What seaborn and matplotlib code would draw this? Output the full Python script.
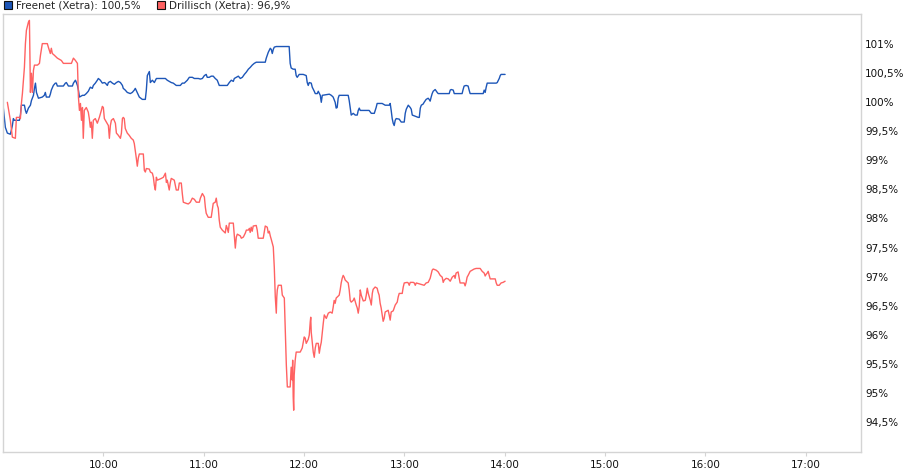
import matplotlib
matplotlib.use("Agg")
import matplotlib.pyplot as plt
import matplotlib.dates as mdates
from matplotlib.patches import Patch
from matplotlib.ticker import FuncFormatter, FixedLocator
import pandas as pd
import seaborn as sns

# Intraday data, minutes after 09:00, value in % of the opening price
freenet_min = [0.0, 0.2, 0.8, 1.4, 2.6, 4.4, 5.0, 5.6, 6.2, 6.8, 9.8, 10.4, 11.0, 12.8, 13.4, 14.0,
               15.2, 16.4, 17.0, 18.2, 18.8, 19.4, 20.0, 21.2, 23.5, 24.7, 25.3, 25.9, 27.7, 28.3,
               28.9, 30.1, 31.3, 31.9, 32.5, 36.1, 37.3, 37.9, 38.5, 39.1, 41.5, 42.1, 43.3, 43.9,
               44.5, 45.1, 45.7, 47.5, 48.6, 49.8, 51.0, 52.2, 53.4, 54.0, 55.2, 56.4, 57.0, 58.2,
               59.4, 60.6, 61.2, 62.4, 63.0, 64.2, 65.4, 66.6, 67.8, 69.0, 70.2, 71.4, 71.9, 73.1,
               74.3, 76.1, 77.3, 78.5, 79.1, 81.5, 83.3, 85.1, 85.7, 86.3, 87.5, 88.1, 89.3, 90.5,
               91.7, 97.1, 98.2, 99.4, 100.6, 101.8, 103.6, 106.0, 107.2, 108.4, 110.2, 111.4,
               113.2, 114.4, 116.8, 118.0, 119.2, 120.4, 121.5, 122.1, 123.3, 124.5, 125.7, 126.9,
               128.1, 129.3, 134.1, 135.3, 136.5, 137.7, 138.3, 139.5, 140.7, 141.9, 143.1, 144.3,
               145.5, 146.7, 147.8, 149.0, 150.2, 151.4, 156.8, 157.4, 158.0, 158.6, 159.8, 160.4,
               161.0, 161.6, 162.2, 163.4, 171.1, 171.7, 172.3, 173.5, 174.7, 175.3, 175.9, 177.1,
               179.5, 181.3, 181.9, 182.5, 183.1, 184.3, 184.9, 186.1, 186.7, 187.9, 188.5, 189.7,
               190.3, 190.9, 195.1, 196.3, 197.4, 198.6, 199.2, 199.8, 200.4, 201.0, 206.4, 207.0,
               207.6, 208.2, 209.4, 210.6, 211.8, 212.4, 213.0, 213.6, 218.9, 220.2, 222.0, 223.1,
               223.7, 226.7, 228.5, 230.9, 231.5, 232.1, 232.7, 233.3, 233.9, 234.5, 235.1, 236.9,
               238.1, 239.9, 240.5, 241.1, 242.3, 243.5, 244.1, 244.7, 248.3, 248.9, 249.5, 250.1,
               251.2, 251.8, 253.0, 254.2, 254.8, 255.4, 256.0, 256.6, 257.2, 258.4, 259.6, 260.2,
               266.8, 267.4, 268.0, 269.2, 269.8, 274.5, 275.1, 275.7, 276.9, 278.1, 278.7, 279.3,
               287.1, 287.7, 288.3, 288.9, 289.5, 294.9, 295.5, 296.7, 297.3, 297.8, 300.2]
freenet_val = [100.00, 99.90, 99.74, 99.57, 99.47, 99.45, 99.52, 99.60, 99.72, 99.69, 99.69, 99.78,
               99.95, 99.95, 99.86, 99.81, 99.90, 99.95, 100.03, 100.12, 100.24, 100.33, 100.17,
               100.07, 100.09, 100.12, 100.17, 100.09, 100.09, 100.14, 100.21, 100.29, 100.33,
               100.33, 100.28, 100.28, 100.33, 100.34, 100.31, 100.28, 100.28, 100.33, 100.38,
               100.34, 100.29, 100.21, 100.09, 100.12, 100.12, 100.15, 100.19, 100.26, 100.24,
               100.29, 100.33, 100.38, 100.41, 100.38, 100.33, 100.34, 100.33, 100.29, 100.34,
               100.36, 100.33, 100.31, 100.34, 100.36, 100.34, 100.29, 100.24, 100.21, 100.17,
               100.15, 100.17, 100.21, 100.24, 100.09, 100.05, 100.05, 100.21, 100.46, 100.53,
               100.34, 100.38, 100.34, 100.41, 100.41, 100.38, 100.36, 100.34, 100.33, 100.29,
               100.29, 100.33, 100.33, 100.38, 100.43, 100.43, 100.41, 100.41, 100.40, 100.41,
               100.46, 100.48, 100.43, 100.43, 100.45, 100.45, 100.41, 100.38, 100.29, 100.29,
               100.34, 100.38, 100.36, 100.41, 100.43, 100.45, 100.41, 100.43, 100.48, 100.52,
               100.57, 100.60, 100.64, 100.67, 100.69, 100.69, 100.76, 100.81, 100.86, 100.93,
               100.91, 100.84, 100.91, 100.95, 100.96, 100.96, 100.67, 100.59, 100.57, 100.57,
               100.46, 100.43, 100.48, 100.48, 100.46, 100.34, 100.29, 100.34, 100.33, 100.26,
               100.19, 100.15, 100.15, 100.19, 100.12, 100.00, 100.12, 100.14, 100.12, 100.09,
               100.00, 99.90, 99.91, 100.07, 100.12, 100.12, 100.03, 99.91, 99.78, 99.81, 99.78,
               99.78, 99.86, 99.90, 99.86, 99.86, 99.81, 99.81, 99.91, 99.98, 99.98, 99.95, 99.95,
               99.98, 99.86, 99.72, 99.64, 99.60, 99.69, 99.72, 99.71, 99.66, 99.66, 99.81, 99.88,
               99.95, 99.91, 99.88, 99.78, 99.74, 99.74, 99.90, 99.95, 99.97, 100.00, 100.05,
               100.07, 100.05, 100.02, 100.09, 100.15, 100.19, 100.22, 100.17, 100.15, 100.15,
               100.21, 100.22, 100.21, 100.15, 100.15, 100.22, 100.28, 100.29, 100.28, 100.21,
               100.15, 100.15, 100.21, 100.17, 100.26, 100.33, 100.33, 100.34, 100.41, 100.46,
               100.48, 100.48]

drillisch_min = [2.6, 4.4, 5.6, 7.4, 8.0, 9.8, 10.4, 11.0, 11.6, 12.8, 13.4, 14.0, 15.2, 15.8, 16.4,
                 17.0, 17.6, 18.2, 18.8, 20.6, 21.8, 22.4, 23.5, 26.5, 27.1, 28.3, 28.9, 29.5, 30.7,
                 32.5, 34.9, 36.1, 40.9, 42.1, 43.3, 44.5, 45.1, 45.7, 46.3, 46.9, 47.5, 48.0, 48.6,
                 49.8, 51.0, 51.6, 52.2, 52.8, 53.4, 54.0, 55.2, 56.4, 57.6, 58.8, 59.4, 60.0, 60.6,
                 61.8, 63.0, 63.6, 64.2, 64.8, 66.0, 67.2, 67.8, 69.0, 70.2, 70.8, 71.4, 71.9, 72.5,
                 73.1, 74.3, 75.5, 76.7, 77.9, 78.5, 79.1, 79.7, 80.3, 80.9, 81.5, 83.9, 84.5, 85.1,
                 85.7, 87.5, 88.1, 89.3, 89.9, 90.5, 91.1, 91.7, 92.3, 94.7, 95.9, 97.1, 97.7, 98.2,
                 99.4, 100.0, 100.6, 102.4, 103.0, 103.6, 104.8, 105.4, 106.6, 107.2, 107.8, 109.6,
                 110.8, 112.0, 113.2, 114.4, 115.6, 117.4, 118.0, 119.2, 120.4, 121.0, 121.5, 122.7,
                 124.5, 125.1, 125.7, 126.9, 127.5, 128.1, 128.7, 129.3, 129.9, 131.1, 132.9, 133.5,
                 134.1, 134.7, 135.3, 137.7, 138.3, 138.9, 139.5, 140.1, 141.9, 142.5, 143.7, 144.9,
                 145.5, 146.7, 147.3, 147.8, 148.4, 149.0, 149.6, 151.4, 152.0, 152.6, 155.6, 156.8,
                 158.0, 158.6, 159.2, 159.8, 160.4, 161.6, 162.2, 162.8, 163.4, 163.7, 164.0, 164.6,
                 166.4, 167.0, 168.2, 168.8, 169.4, 170.0, 171.7, 172.3, 172.9, 173.2, 173.5, 173.8,
                 174.1, 174.7, 175.3, 177.7, 178.9, 179.5, 180.1, 180.7, 181.3, 182.5, 183.1, 183.7,
                 184.0, 184.3, 185.5, 186.1, 186.7, 187.3, 188.5, 189.1, 189.7, 190.3, 190.9, 191.5,
                 192.1, 193.3, 194.5, 195.7, 196.8, 197.4, 198.0, 198.6, 199.2, 201.0, 201.6, 202.2,
                 202.8, 203.4, 204.0, 204.6, 206.4, 207.0, 207.6, 208.2, 209.4, 210.0, 211.2, 211.8,
                 212.4, 213.0, 213.6, 214.2, 215.4, 216.6, 217.2, 217.8, 218.4, 219.6, 220.2, 220.8,
                 221.3, 222.5, 223.7, 224.3, 224.9, 225.5, 226.1, 226.7, 227.3, 227.9, 228.5, 230.3,
                 230.9, 231.5, 232.1, 233.3, 233.9, 234.5, 235.7, 236.3, 236.9, 238.7, 239.3, 239.9,
                 241.7, 242.3, 242.9, 243.5, 245.3, 245.9, 246.5, 247.1, 251.8, 253.0, 254.2, 255.4,
                 256.6, 257.2, 259.0, 260.2, 261.4, 262.6, 263.2, 263.8, 265.0, 266.2, 267.4, 268.6,
                 269.8, 270.3, 270.9, 272.1, 272.7, 273.3, 275.7, 276.3, 276.9, 277.5, 278.1, 279.3,
                 280.5, 281.7, 282.9, 285.3, 286.5, 287.7, 288.3, 288.9, 289.5, 290.1, 290.7, 291.3,
                 294.3, 294.9, 295.5, 296.7, 297.8, 299.0, 300.2]
drillisch_val = [100.00, 99.69, 99.40, 99.38, 99.74, 99.74, 99.72, 99.98, 100.15, 100.60, 101.01,
                 101.24, 101.38, 101.41, 100.17, 100.50, 100.17, 100.55, 100.64, 100.64, 100.67,
                 100.81, 101.01, 101.01, 100.95, 100.84, 100.93, 100.84, 100.81, 100.76, 100.72,
                 100.67, 100.67, 100.76, 100.72, 100.67, 100.09, 99.86, 99.98, 99.69, 99.91, 99.38,
                 99.86, 99.91, 99.83, 99.72, 99.57, 99.66, 99.38, 99.69, 99.72, 99.64, 99.74, 99.86,
                 99.93, 99.91, 99.72, 99.66, 99.60, 99.38, 99.60, 99.69, 99.72, 99.64, 99.47, 99.43,
                 99.38, 99.47, 99.72, 99.74, 99.72, 99.55, 99.47, 99.43, 99.38, 99.35, 99.29, 99.17,
                 99.04, 98.90, 99.04, 99.11, 99.11, 98.83, 98.80, 98.86, 98.85, 98.80, 98.78, 98.71,
                 98.57, 98.49, 98.71, 98.66, 98.69, 98.71, 98.78, 98.62, 98.66, 98.49, 98.61, 98.69,
                 98.66, 98.57, 98.49, 98.49, 98.61, 98.61, 98.43, 98.28, 98.26, 98.25, 98.28, 98.35,
                 98.33, 98.28, 98.28, 98.35, 98.43, 98.37, 98.19, 98.09, 98.02, 98.02, 98.14, 98.26,
                 98.28, 98.35, 98.23, 98.18, 97.97, 97.85, 97.80, 97.75, 97.88, 97.83, 97.76, 97.92,
                 97.92, 97.71, 97.49, 97.68, 97.73, 97.70, 97.66, 97.68, 97.75, 97.80, 97.80, 97.83,
                 97.76, 97.85, 97.78, 97.87, 97.88, 97.80, 97.66, 97.66, 97.87, 97.85, 97.75, 97.78,
                 97.70, 97.64, 97.51, 97.16, 96.65, 96.37, 96.65, 96.77, 96.85, 96.85, 96.68, 96.63,
                 96.04, 95.48, 95.10, 95.10, 95.44, 95.22, 95.56, 94.93, 94.70, 95.30, 95.56, 95.70,
                 95.70, 95.77, 95.87, 95.96, 95.94, 95.85, 95.92, 95.99, 96.22, 96.30, 96.04, 95.70,
                 95.61, 95.77, 95.85, 95.85, 95.68, 95.79, 95.87, 96.04, 96.20, 96.34, 96.28, 96.37,
                 96.39, 96.37, 96.47, 96.59, 96.54, 96.63, 96.68, 96.77, 96.89, 96.97, 97.02, 96.99,
                 96.94, 96.89, 96.77, 96.59, 96.56, 96.59, 96.63, 96.51, 96.46, 96.37, 96.49, 96.77,
                 96.68, 96.58, 96.59, 96.68, 96.80, 96.71, 96.59, 96.51, 96.71, 96.78, 96.82, 96.80,
                 96.73, 96.68, 96.54, 96.46, 96.34, 96.23, 96.28, 96.39, 96.42, 96.34, 96.25, 96.39,
                 96.41, 96.46, 96.51, 96.56, 96.65, 96.71, 96.71, 96.82, 96.89, 96.90, 96.89, 96.85,
                 96.90, 96.90, 96.89, 96.85, 96.89, 96.85, 96.89, 96.90, 96.97, 97.11, 97.13, 97.11,
                 97.08, 97.02, 96.99, 96.90, 96.94, 96.97, 96.96, 96.92, 96.99, 97.02, 96.97, 97.06,
                 97.08, 96.99, 96.89, 96.89, 96.84, 96.90, 96.99, 97.02, 97.09, 97.11, 97.13, 97.14,
                 97.14, 97.09, 97.06, 97.01, 97.04, 97.06, 97.09, 97.02, 96.96, 96.96, 96.89, 96.85,
                 96.85, 96.89, 96.90, 96.92]

labels = ["Freenet (Xetra): 100,5%", "Drillisch (Xetra): 96,9%"]
colors = ["#1d56b8", "#ff6262"]
y_ticks = [94.5, 95, 95.5, 96, 96.5, 97, 97.5, 98, 98.5, 99, 99.5, 100, 100.5, 101]

start = pd.Timestamp("2009-06-01 09:00")
df = pd.concat([
    pd.DataFrame({"time": start + pd.to_timedelta(freenet_min, unit="min"),
                  "value": freenet_val, "series": labels[0]}),
    pd.DataFrame({"time": start + pd.to_timedelta(drillisch_min, unit="min"),
                  "value": drillisch_val, "series": labels[1]}),
])

sns.set_theme(style="white")
plt.rcParams["font.family"] = ["DejaVu Sans"]

fig = plt.figure(figsize=(9.07, 4.75), dpi=100)
ax = fig.add_axes([3 / 907, 1 - 452 / 475, 858 / 907, 438 / 475])

sns.lineplot(data=df, x="time", y="value", hue="series", palette=colors,
             linewidth=1.0, ax=ax, legend=False, estimator=None, sort=False)

ax.set_xlim(start, start + pd.Timedelta(minutes=513))
ax.set_xlabel("")
ax.set_ylabel("")

ax.xaxis.set_major_locator(mdates.HourLocator(byhour=range(10, 18)))
ax.xaxis.set_major_formatter(mdates.DateFormatter("%H:%M"))
ax.yaxis.set_major_locator(FixedLocator(y_ticks))
ax.yaxis.set_major_formatter(FuncFormatter(lambda v, p: f"{v:g}%".replace(".", ",")))
ax.yaxis.tick_right()
ax.set_ylim(93.98, 101.52)

ax.tick_params(axis="x", bottom=True, length=3, width=0.8, color="#d4d4d4",
               labelsize=7.5, pad=3, labelcolor="#111111")
ax.tick_params(axis="y", right=False, left=False, length=0, labelsize=7.5,
               pad=3, labelcolor="#111111")
for s in ax.spines.values():
    s.set_color("#d4d4d4")
    s.set_linewidth(1.0)

handles = [Patch(facecolor=c, edgecolor="#111111", linewidth=0.8) for c in colors]
fig.legend(handles, labels, loc="upper left", bbox_to_anchor=(-0.002, 1.012), ncol=2,
           frameon=False, fontsize=7.5, handlelength=0.75, handleheight=0.75,
           handletextpad=0.35, columnspacing=1.6, borderaxespad=0.2)

fig.savefig("out.png", dpi=100)
